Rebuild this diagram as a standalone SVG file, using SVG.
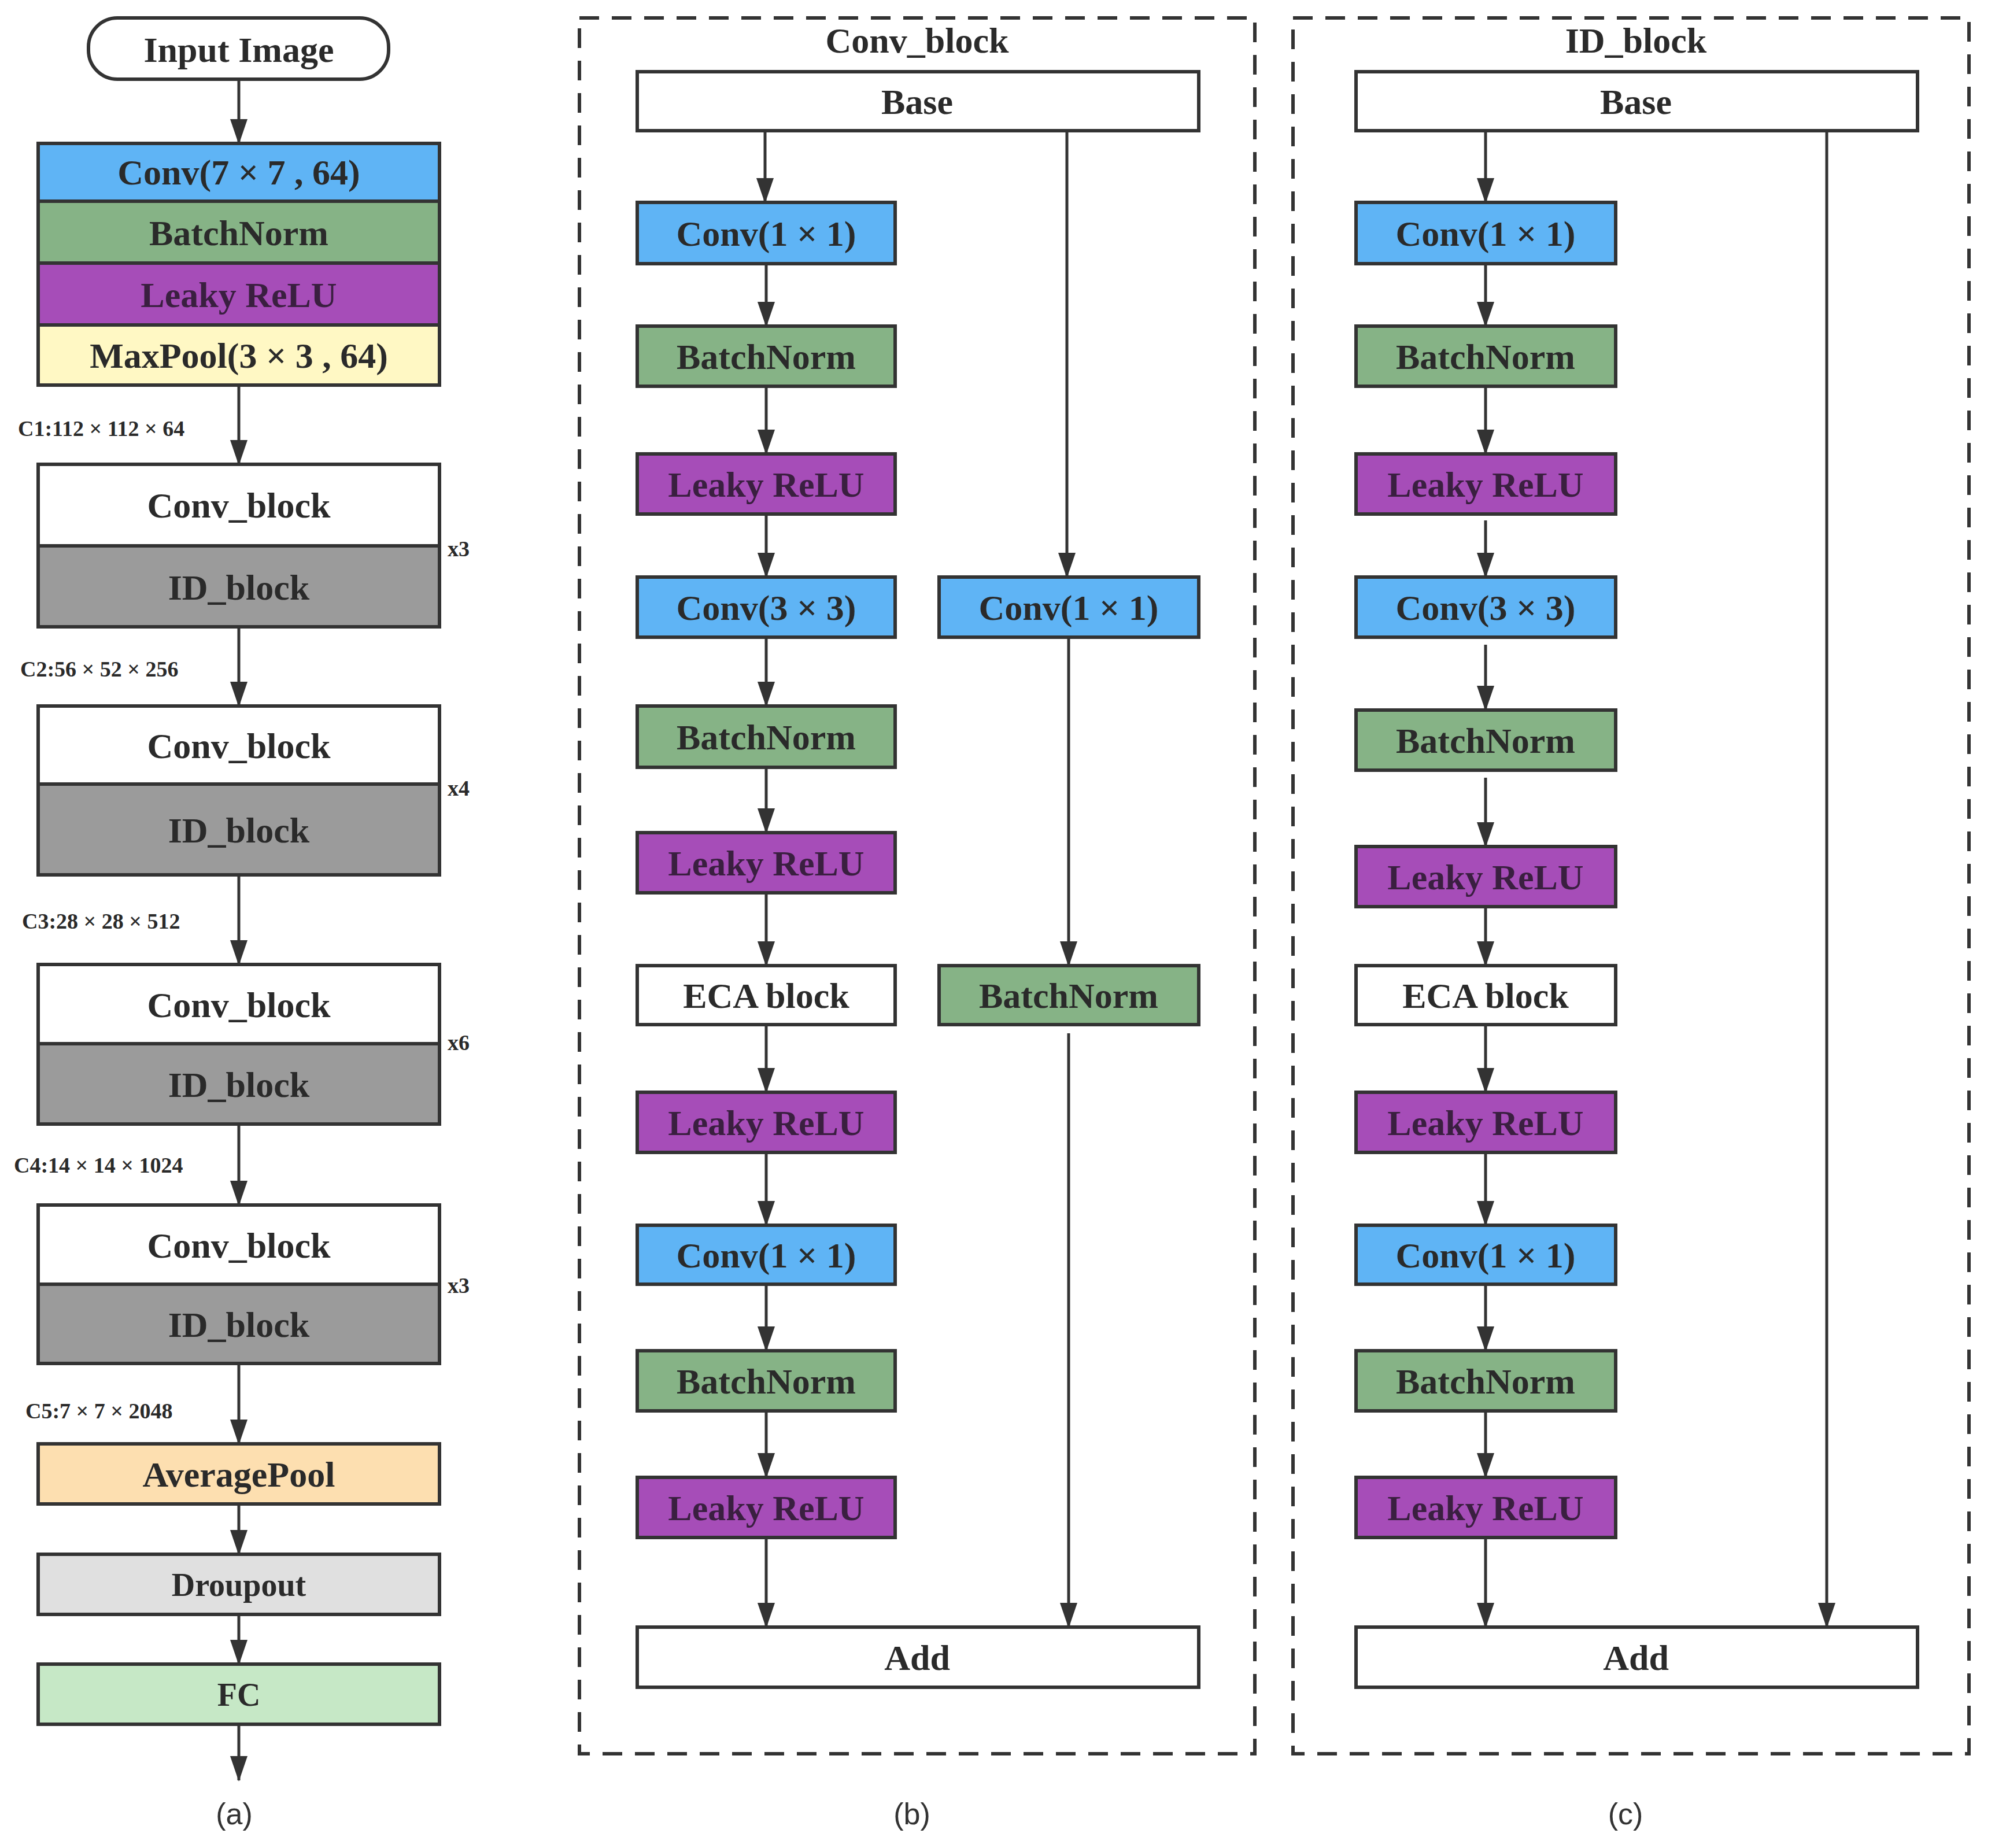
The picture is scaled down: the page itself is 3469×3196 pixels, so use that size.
<svg xmlns="http://www.w3.org/2000/svg" width="3469" height="3196" viewBox="0 0 3469 3196">
<style>
.b{stroke:#333;stroke-width:6}
.t{font-family:"Liberation Serif",serif;font-weight:bold;font-size:62px;fill:#2a2a2a;text-anchor:middle;dominant-baseline:central}
.s{font-family:"Liberation Serif",serif;font-weight:bold;font-size:38px;fill:#2a2a2a}
.cap{font-family:"Liberation Sans",sans-serif;font-size:52px;fill:#333;text-anchor:middle}
.ln{stroke:#333;stroke-width:5;fill:none}
.dash{stroke:#333;stroke-width:6;fill:none;stroke-dasharray:34 22}
.blue{fill:#5fb4f5}.green{fill:#86b386}.purple{fill:#a64db8}.white{fill:#fff}.gray{fill:#9b9b9b}
</style>
<defs>
<marker id="ar" markerUnits="userSpaceOnUse" markerWidth="30" markerHeight="44" refX="15" refY="42" orient="auto-start-reverse" viewBox="0 0 30 44">
<path d="M0,0 L30,0 L15,44 Z" fill="#333" transform="rotate(0)"/>
</marker>
<marker id="a" markerUnits="userSpaceOnUse" markerWidth="44" markerHeight="30" refX="42" refY="15" orient="auto" viewBox="0 0 44 30">
<path d="M0,0 L44,15 L0,30 Z" fill="#333"/>
</marker>
</defs>
<rect width="3469" height="3196" fill="#fff"/>

<g id="connectors">
<line class="ln" x1="413" y1="137" x2="413" y2="248" marker-end="url(#a)"/>
<line class="ln" x1="413" y1="666" x2="413" y2="803" marker-end="url(#a)"/>
<line class="ln" x1="413" y1="1084" x2="413" y2="1221" marker-end="url(#a)"/>
<line class="ln" x1="413" y1="1513" x2="413" y2="1668" marker-end="url(#a)"/>
<line class="ln" x1="413" y1="1944" x2="413" y2="2084" marker-end="url(#a)"/>
<line class="ln" x1="413" y1="2358" x2="413" y2="2497" marker-end="url(#a)"/>
<line class="ln" x1="413" y1="2601" x2="413" y2="2688" marker-end="url(#a)"/>
<line class="ln" x1="413" y1="2792" x2="413" y2="2878" marker-end="url(#a)"/>
<line class="ln" x1="413" y1="2982" x2="413" y2="3079" marker-end="url(#a)"/>

<line class="ln" x1="1323" y1="226" x2="1323" y2="350" marker-end="url(#a)"/>
<line class="ln" x1="1325" y1="456" x2="1325" y2="564" marker-end="url(#a)"/>
<line class="ln" x1="1325" y1="668" x2="1325" y2="785" marker-end="url(#a)"/>
<line class="ln" x1="1325" y1="889" x2="1325" y2="998" marker-end="url(#a)"/>
<line class="ln" x1="1325" y1="1102" x2="1325" y2="1221" marker-end="url(#a)"/>
<line class="ln" x1="1325" y1="1327" x2="1325" y2="1440" marker-end="url(#a)"/>
<line class="ln" x1="1325" y1="1544" x2="1325" y2="1670" marker-end="url(#a)"/>
<line class="ln" x1="1325" y1="1772" x2="1325" y2="1889" marker-end="url(#a)"/>
<line class="ln" x1="1325" y1="1993" x2="1325" y2="2119" marker-end="url(#a)"/>
<line class="ln" x1="1325" y1="2221" x2="1325" y2="2336" marker-end="url(#a)"/>
<line class="ln" x1="1325" y1="2440" x2="1325" y2="2555" marker-end="url(#a)"/>
<line class="ln" x1="1325" y1="2659" x2="1325" y2="2814" marker-end="url(#a)"/>
<line class="ln" x1="1845" y1="217" x2="1845" y2="998" marker-end="url(#a)"/>
<line class="ln" x1="1848" y1="1102" x2="1848" y2="1670" marker-end="url(#a)"/>
<line class="ln" x1="1848" y1="1787" x2="1848" y2="2814" marker-end="url(#a)"/>

<line class="ln" x1="2569" y1="226" x2="2569" y2="350" marker-end="url(#a)"/>
<line class="ln" x1="2569" y1="456" x2="2569" y2="564" marker-end="url(#a)"/>
<line class="ln" x1="2569" y1="668" x2="2569" y2="785" marker-end="url(#a)"/>
<line class="ln" x1="2569" y1="900" x2="2569" y2="998" marker-end="url(#a)"/>
<line class="ln" x1="2569" y1="1115" x2="2569" y2="1228" marker-end="url(#a)"/>
<line class="ln" x1="2569" y1="1345" x2="2569" y2="1464" marker-end="url(#a)"/>
<line class="ln" x1="2569" y1="1568" x2="2569" y2="1670" marker-end="url(#a)"/>
<line class="ln" x1="2569" y1="1772" x2="2569" y2="1889" marker-end="url(#a)"/>
<line class="ln" x1="2569" y1="1993" x2="2569" y2="2119" marker-end="url(#a)"/>
<line class="ln" x1="2569" y1="2221" x2="2569" y2="2336" marker-end="url(#a)"/>
<line class="ln" x1="2569" y1="2440" x2="2569" y2="2555" marker-end="url(#a)"/>
<line class="ln" x1="2569" y1="2659" x2="2569" y2="2814" marker-end="url(#a)"/>
<line class="ln" x1="3159" y1="226" x2="3159" y2="2814" marker-end="url(#a)"/>
</g>

<g id="panel-a">
<g id="input"><rect class="b white" x="153" y="31" width="519" height="106" rx="50"/><text class="t" x="413" y="86">Input Image</text></g>
<g id="a-conv"><rect class="b" fill="#5fb4f5" x="66" y="248" width="694" height="100"/><text class="t" x="413" y="298" fill="#1c2a3a">Conv(7 × 7 , 64)</text></g>
<g id="a-bn"><rect class="b green" x="66" y="348" width="694" height="107"/><text class="t" x="413" y="403">BatchNorm</text></g>
<g id="a-lr"><rect class="b purple" x="66" y="455" width="694" height="107"/><text class="t" x="413" y="510" style="fill:#3a1f40">Leaky ReLU</text></g>
<g id="a-mp"><rect class="b" fill="#fff8c4" x="66" y="562" width="694" height="104"/><text class="t" x="413" y="615">MaxPool(3 × 3 , 64)</text></g>
<text class="s" x="31" y="754">C1:112 × 112 × 64</text>
<g id="stage1"><rect class="b white" x="66" y="803" width="694" height="141"/><text class="t" x="413" y="874">Conv_block</text><rect class="b gray" x="66" y="944" width="694" height="140"/><text class="t" x="413" y="1016">ID_block</text><text class="s" x="774" y="962">x3</text></g>
<text class="s" x="35" y="1170">C2:56 × 52 × 256</text>
<g id="stage2"><rect class="b white" x="66" y="1221" width="694" height="135"/><text class="t" x="413" y="1290">Conv_block</text><rect class="b gray" x="66" y="1356" width="694" height="157"/><text class="t" x="413" y="1436">ID_block</text><text class="s" x="774" y="1376">x4</text></g>
<text class="s" x="38" y="1606">C3:28 × 28 × 512</text>
<g id="stage3"><rect class="b white" x="66" y="1668" width="694" height="137"/><text class="t" x="413" y="1738">Conv_block</text><rect class="b gray" x="66" y="1805" width="694" height="139"/><text class="t" x="413" y="1876">ID_block</text><text class="s" x="774" y="1816">x6</text></g>
<text class="s" x="24" y="2028">C4:14 × 14 × 1024</text>
<g id="stage4"><rect class="b white" x="66" y="2084" width="694" height="137"/><text class="t" x="413" y="2154">Conv_block</text><rect class="b gray" x="66" y="2221" width="694" height="137"/><text class="t" x="413" y="2291">ID_block</text><text class="s" x="774" y="2236">x3</text></g>
<text class="s" x="44" y="2453">C5:7 × 7 × 2048</text>
<g id="avgpool"><rect class="b" fill="#fddfb0" x="66" y="2497" width="694" height="104"/><text class="t" x="413" y="2550">AveragePool</text></g>
<g id="dropout"><rect class="b" fill="#e0e0e0" x="66" y="2688" width="694" height="104"/><text class="t" x="413" y="2741" style="font-size:56px">Droupout</text></g>
<g id="fc"><rect class="b" fill="#c6e8c6" x="66" y="2878" width="694" height="104"/><text class="t" x="413" y="2931" style="font-size:56px">FC</text></g>
<text class="cap" x="405" y="3155">(a)</text>
</g>

<g id="panel-b">
<rect class="dash" x="1002" y="31" width="1168" height="3002"/>
<text class="t" x="1586" y="70">Conv_block</text>
<g id="b-base"><rect class="b white" x="1102" y="124" width="971" height="102"/><text class="t" x="1586" y="176">Base</text></g>
<g id="b-c1"><rect class="b blue" x="1102" y="350" width="446" height="106"/><text class="t" x="1325" y="404" fill="#1c2a3a">Conv(1 × 1)</text></g>
<g id="b-bn1"><rect class="b green" x="1102" y="564" width="446" height="104"/><text class="t" x="1325" y="617">BatchNorm</text></g>
<g id="b-lr1"><rect class="b purple" x="1102" y="785" width="446" height="104"/><text class="t" x="1325" y="838" style="fill:#3a1f40">Leaky ReLU</text></g>
<g id="b-c3"><rect class="b blue" x="1102" y="998" width="446" height="104"/><text class="t" x="1325" y="1051" fill="#1c2a3a">Conv(3 × 3)</text></g>
<g id="b-bn2"><rect class="b green" x="1102" y="1221" width="446" height="106"/><text class="t" x="1325" y="1275">BatchNorm</text></g>
<g id="b-lr2"><rect class="b purple" x="1102" y="1440" width="446" height="104"/><text class="t" x="1325" y="1493" style="fill:#3a1f40">Leaky ReLU</text></g>
<g id="b-eca"><rect class="b white" x="1102" y="1670" width="446" height="102"/><text class="t" x="1325" y="1722">ECA block</text></g>
<g id="b-lr3"><rect class="b purple" x="1102" y="1889" width="446" height="104"/><text class="t" x="1325" y="1942" style="fill:#3a1f40">Leaky ReLU</text></g>
<g id="b-c1b"><rect class="b blue" x="1102" y="2119" width="446" height="102"/><text class="t" x="1325" y="2171" fill="#1c2a3a">Conv(1 × 1)</text></g>
<g id="b-bn3"><rect class="b green" x="1102" y="2336" width="446" height="104"/><text class="t" x="1325" y="2389">BatchNorm</text></g>
<g id="b-lr4"><rect class="b purple" x="1102" y="2555" width="446" height="104"/><text class="t" x="1325" y="2608" style="fill:#3a1f40">Leaky ReLU</text></g>
<g id="b-sc-conv"><rect class="b blue" x="1624" y="998" width="449" height="104"/><text class="t" x="1848" y="1051" fill="#1c2a3a">Conv(1 × 1)</text></g>
<g id="b-sc-bn"><rect class="b green" x="1624" y="1670" width="449" height="102"/><text class="t" x="1848" y="1722">BatchNorm</text></g>
<g id="b-add"><rect class="b white" x="1102" y="2814" width="971" height="104"/><text class="t" x="1586" y="2867">Add</text></g>
<text class="cap" x="1577" y="3155">(b)</text>
</g>

<g id="panel-c">
<rect class="dash" x="2236" y="31" width="1169" height="3002"/>
<text class="t" x="2829" y="70">ID_block</text>
<g id="c-base"><rect class="b white" x="2345" y="124" width="971" height="102"/><text class="t" x="2829" y="176">Base</text></g>
<g id="c-c1"><rect class="b blue" x="2345" y="350" width="449" height="106"/><text class="t" x="2569" y="404" fill="#1c2a3a">Conv(1 × 1)</text></g>
<g id="c-bn1"><rect class="b green" x="2345" y="564" width="449" height="104"/><text class="t" x="2569" y="617">BatchNorm</text></g>
<g id="c-lr1"><rect class="b purple" x="2345" y="785" width="449" height="104"/><text class="t" x="2569" y="838" style="fill:#3a1f40">Leaky ReLU</text></g>
<g id="c-c3"><rect class="b blue" x="2345" y="998" width="449" height="104"/><text class="t" x="2569" y="1051" fill="#1c2a3a">Conv(3 × 3)</text></g>
<g id="c-bn2"><rect class="b green" x="2345" y="1228" width="449" height="104"/><text class="t" x="2569" y="1281">BatchNorm</text></g>
<g id="c-lr2"><rect class="b purple" x="2345" y="1464" width="449" height="104"/><text class="t" x="2569" y="1517" style="fill:#3a1f40">Leaky ReLU</text></g>
<g id="c-eca"><rect class="b white" x="2345" y="1670" width="449" height="102"/><text class="t" x="2569" y="1722">ECA block</text></g>
<g id="c-lr3"><rect class="b purple" x="2345" y="1889" width="449" height="104"/><text class="t" x="2569" y="1942" style="fill:#3a1f40">Leaky ReLU</text></g>
<g id="c-c1b"><rect class="b blue" x="2345" y="2119" width="449" height="102"/><text class="t" x="2569" y="2171" fill="#1c2a3a">Conv(1 × 1)</text></g>
<g id="c-bn3"><rect class="b green" x="2345" y="2336" width="449" height="104"/><text class="t" x="2569" y="2389">BatchNorm</text></g>
<g id="c-lr4"><rect class="b purple" x="2345" y="2555" width="449" height="104"/><text class="t" x="2569" y="2608" style="fill:#3a1f40">Leaky ReLU</text></g>
<g id="c-add"><rect class="b white" x="2345" y="2814" width="971" height="104"/><text class="t" x="2829" y="2867">Add</text></g>
<text class="cap" x="2811" y="3155">(c)</text>
</g>
</svg>
